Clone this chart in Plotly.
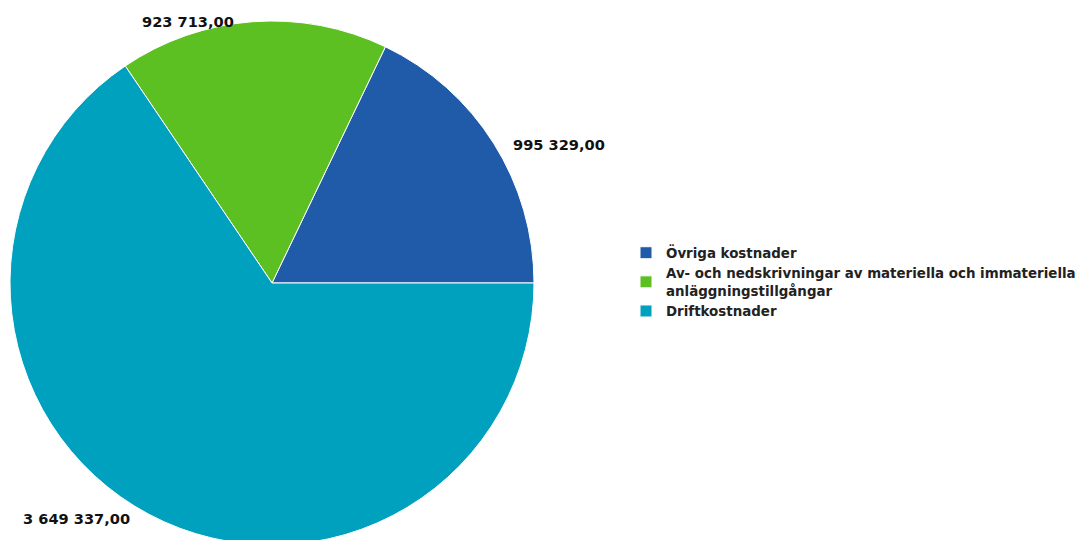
import math
import plotly.graph_objects as go

categories = [
    "Övriga kostnader",
    "Av- och nedskrivningar av materiella och immateriella<br>anläggningstillgångar",
    "Driftkostnader",
]
values = [995329.00, 923713.00, 3649337.00]
colors = ["#1F5BA8", "#5CBF22", "#00A1BF"]


def fmt(v):
    s = f"{v:,.2f}"
    return s.replace(",", " ").replace(".", ",")


labels_text = [fmt(v) for v in values]

# first slice starts at 3 o'clock and runs counterclockwise
total = sum(values)
rotation = 90 - 360 * values[0] / total

# page body adds an 8px offset; work in figure pixels
W, H = 1086, 540
L, R, T, B = 0, 0, 13, 3
plot_w = W - L - R
plot_h = H - T - B
r = plot_h / 2
cx = 264
cy = T + r

fig = go.Figure(
    go.Pie(
        labels=categories,
        values=values,
        textinfo="none",
        marker=dict(colors=colors, line=dict(color="white", width=1)),
        sort=False,
        direction="counterclockwise",
        rotation=rotation,
        hoverinfo="label+value",
        domain=dict(x=[(cx - r - L) / plot_w, (cx + r - L) / plot_w], y=[0, 1]),
    )
)

# value labels placed beside the slice mid-angle, derived from the data
cum = 0.0
for v, txt in zip(values, labels_text):
    mid = 2 * math.pi * (cum + v / 2) / total
    cum += v
    px = cx + r * math.cos(mid)
    py = cy - r * math.sin(mid) + 2 - 2 * math.sin(mid)
    right_side = math.cos(mid) >= 0
    px += 17 if right_side else -17
    fig.add_annotation(
        x=(px - L) / plot_w,
        y=1 - (py - T) / plot_h,
        xref="paper",
        yref="paper",
        text=txt,
        showarrow=False,
        xanchor="left" if right_side else "right",
        yanchor="middle",
        font=dict(family="DejaVu Sans", size=14.6, color="#111111", weight="bold"),
    )

fig.update_layout(
    width=W,
    height=H,
    margin=dict(l=L, r=R, t=T, b=B, autoexpand=False),
    paper_bgcolor="white",
    plot_bgcolor="white",
    font=dict(family="DejaVu Sans", size=13.4, color="#222222"),
    showlegend=True,
    legend=dict(
        x=(618 - L) / plot_w,
        y=1 - (274 - T) / plot_h,
        xanchor="left",
        yanchor="middle",
        font=dict(family="DejaVu Sans", size=13.4, color="#222222", weight="bold"),
        tracegroupgap=0,
        itemclick=False,
    ),
)

fig.write_html("out.html")
